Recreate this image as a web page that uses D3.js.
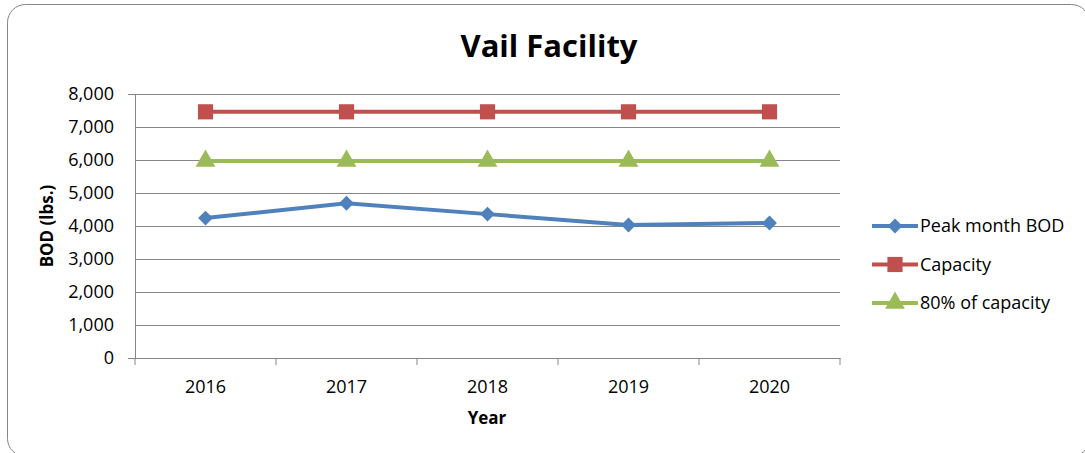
<!DOCTYPE html>
<html>
<head>
<meta charset="utf-8">
<script src="https://cdn.jsdelivr.net/npm/d3@7"></script>
<style>
  body { margin: 0; background: #fff; }
  text { font-family: "Open Sans", "Noto Sans", sans-serif; fill: #000; }
</style>
</head>
<body>
<div id="vis"></div>
<script>
// chart data
var years = ['2016', '2017', '2018', '2019', '2020'];
var peakBOD = [4240, 4690, 4360, 4030, 4090];
var capacity = [7460, 7460, 7460, 7460, 7460];
var eightyPct = [5970, 5970, 5970, 5970, 5970];
var yTicks = [0, 1000, 2000, 3000, 4000, 5000, 6000, 7000, 8000];

var seriesNames = ['Peak month BOD', 'Capacity', '80% of capacity'];
var seriesColors = ['#4f81bd', '#c0504d', '#9bbb59'];
var seriesValues = [peakBOD, capacity, eightyPct];

// marker shapes: diamond is a rotated square
function marker(s) {
  if (s === 0) return { d: d3.symbol().type(d3.symbolSquare).size(110)(), rot: 45 };
  if (s === 1) return { d: d3.symbol().type(d3.symbolSquare).size(230)(), rot: 0 };
  return { d: d3.symbol().type(d3.symbolTriangle).size(170)(), rot: 0 };
}

var width = 1085;
var height = 453;
var plot = { left: 135, right: 840, top: 94, bottom: 358 };

var svg = d3.select('#vis').append('svg')
  .attr('width', width)
  .attr('height', height);

// rounded chart border
svg.append('rect')
  .attr('x', 7.5).attr('y', 4.5)
  .attr('width', 1082).attr('height', 452)
  .attr('rx', 18)
  .attr('fill', '#fff')
  .attr('stroke', '#868686')
  .attr('stroke-width', 1);

var x = d3.scaleBand().domain(years).range([plot.left, plot.right]);
var y = d3.scaleLinear().domain([0, 8000]).range([plot.bottom, plot.top]);

// gridlines + y axis
var yAxis = svg.append('g')
  .attr('transform', 'translate(' + plot.left + ',0)')
  .call(d3.axisLeft(y).tickValues(yTicks).tickSize(7).tickPadding(14)
    .tickFormat(d3.format(',')));
yAxis.select('.domain').attr('stroke', '#868686');
yAxis.selectAll('.tick line')
  .attr('x2', plot.right - plot.left)
  .attr('stroke', '#868686');
yAxis.selectAll('.tick text').style('font-size', '18px');

// x axis
var xAxis = svg.append('g')
  .attr('transform', 'translate(0,' + plot.bottom + ')')
  .call(d3.axisBottom(x).tickSize(0).tickPadding(22));
xAxis.select('.domain').attr('stroke', '#868686');
xAxis.selectAll('.tick text').style('font-size', '18px');
xAxis.selectAll('.sep')
  .data(d3.range(years.length + 1))
  .enter().append('line')
  .attr('x1', function (i) { return plot.left + i * x.bandwidth(); })
  .attr('x2', function (i) { return plot.left + i * x.bandwidth(); })
  .attr('y1', 0).attr('y2', 7)
  .attr('stroke', '#868686');

// titles
svg.append('text')
  .attr('x', 549).attr('y', 57)
  .attr('text-anchor', 'middle')
  .style('font-size', '31px').style('font-weight', 'bold')
  .text('Vail Facility');

svg.append('text')
  .attr('x', 487).attr('y', 424)
  .attr('text-anchor', 'middle')
  .style('font-size', '17px').style('font-weight', 'bold')
  .text('Year');

svg.append('text')
  .attr('transform', 'translate(53,226) rotate(-90)')
  .attr('text-anchor', 'middle')
  .style('font-size', '17px').style('font-weight', 'bold')
  .text('BOD (lbs.)');

// series
var line = d3.line()
  .x(function (d, i) { return x(years[i]) + x.bandwidth() / 2; })
  .y(function (d) { return y(d); });

seriesValues.forEach(function (vals, s) {
  svg.append('path')
    .datum(vals)
    .attr('d', line)
    .attr('fill', 'none')
    .attr('stroke', seriesColors[s])
    .attr('stroke-width', 4);

  var m = marker(s);
  svg.selectAll('.pt' + s)
    .data(vals)
    .enter().append('path')
    .attr('class', 'pt' + s)
    .attr('transform', function (d, i) {
      return 'translate(' + (x(years[i]) + x.bandwidth() / 2) + ',' + y(d) + ') rotate(' + m.rot + ')';
    })
    .attr('d', m.d)
    .attr('fill', seriesColors[s]);
});

// legend
var legend = svg.selectAll('.legend')
  .data(seriesNames)
  .enter().append('g')
  .attr('class', 'legend')
  .attr('transform', function (d, i) { return 'translate(872,' + (226 + i * 38.5) + ')'; });

legend.append('line')
  .attr('x1', 0).attr('x2', 46)
  .attr('stroke', function (d, i) { return seriesColors[i]; })
  .attr('stroke-width', 4);

legend.append('path')
  .attr('transform', function (d, i) { return 'translate(23,0) rotate(' + marker(i).rot + ')'; })
  .attr('d', function (d, i) { return marker(i).d; })
  .attr('fill', function (d, i) { return seriesColors[i]; });

legend.append('text')
  .attr('x', 48).attr('y', 6)
  .style('font-size', '18px')
  .text(function (d) { return d; });
</script>
</body>
</html>
